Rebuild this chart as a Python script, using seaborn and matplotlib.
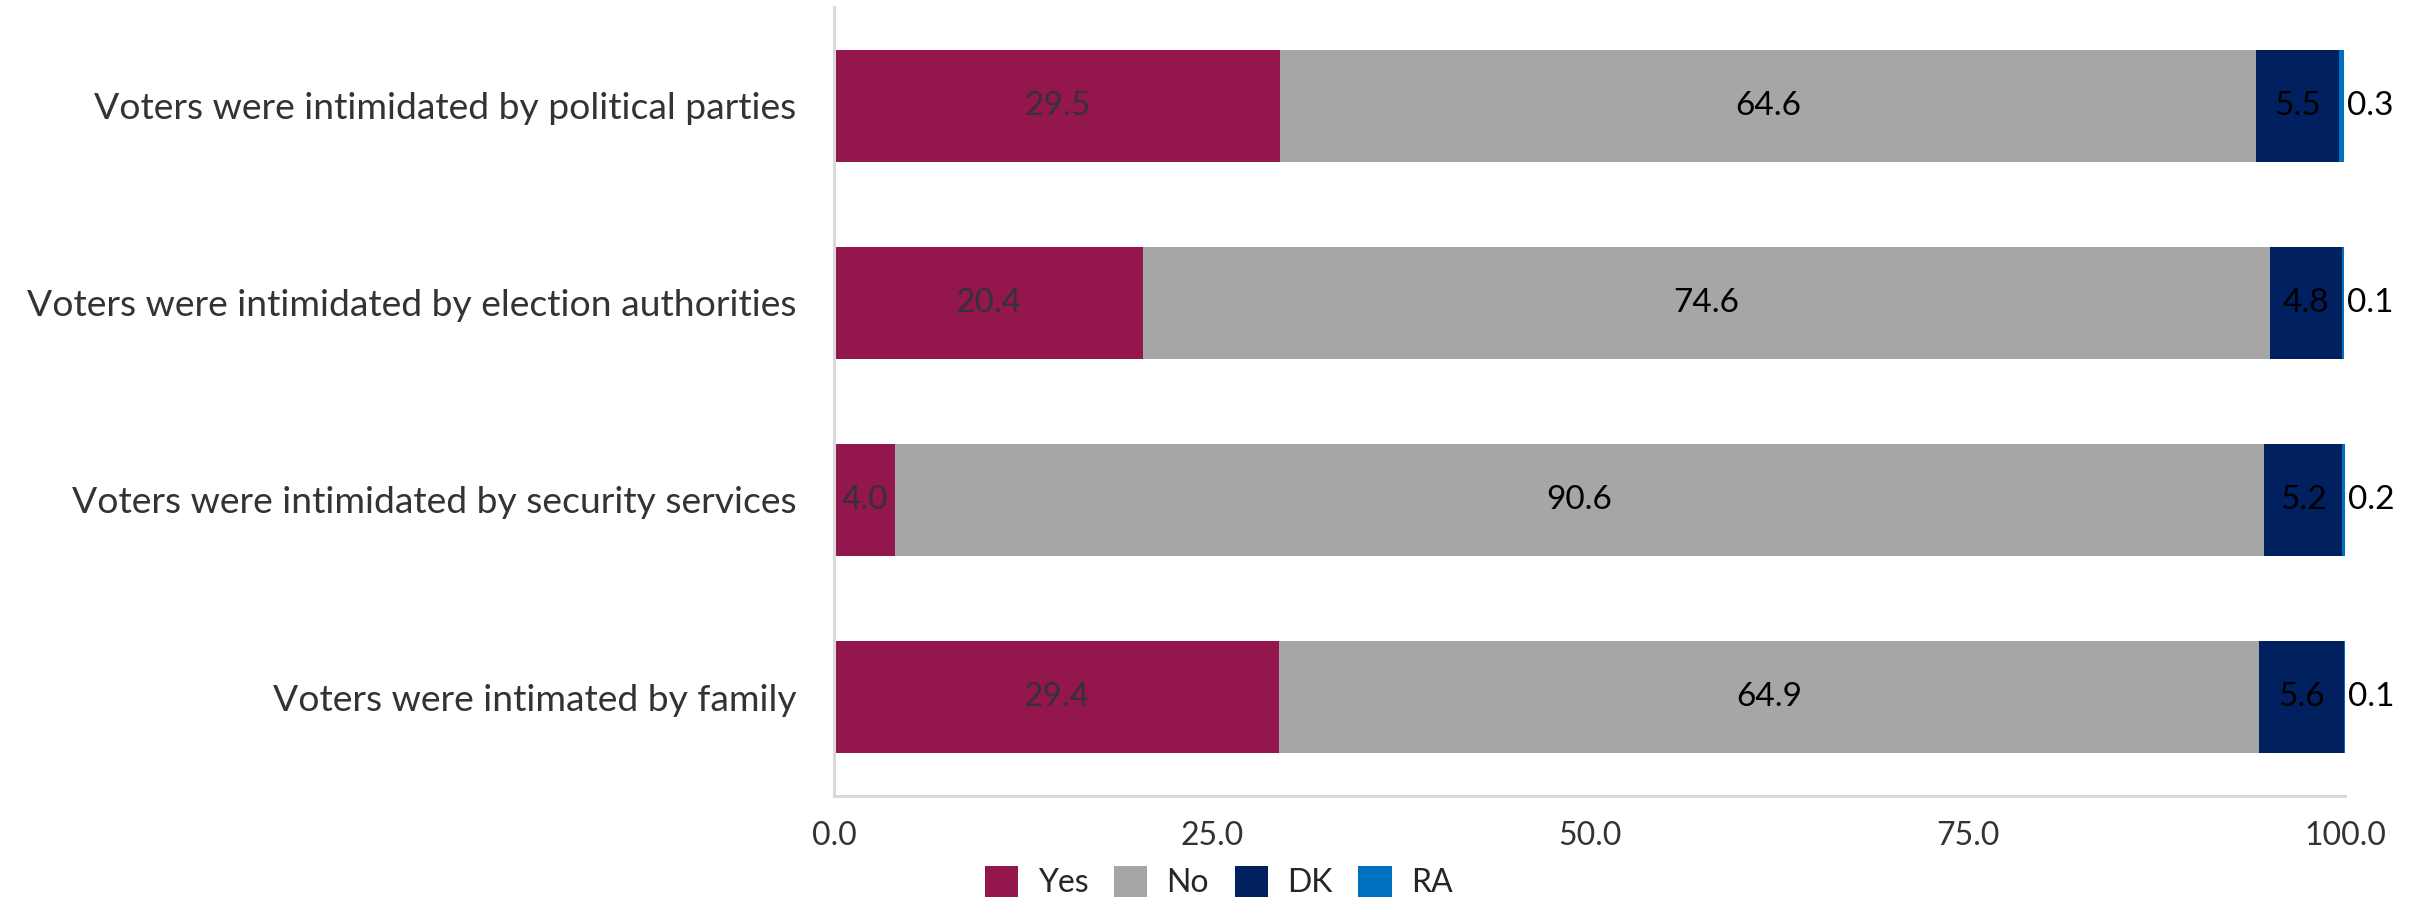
import numpy as np
import pandas as pd
import matplotlib
matplotlib.use("Agg")
import matplotlib.pyplot as plt
import seaborn as sns
from matplotlib.patches import Patch

categories = [
    "Voters were intimidated by political parties",
    "Voters were intimidated by election authorities",
    "Voters were intimidated by security services",
    "Voters were intimated by family",
]
yes_vals = [29.5, 20.4, 4.0, 29.4]
no_vals = [64.6, 74.6, 90.6, 64.9]
dk_vals = [5.5, 4.8, 5.2, 5.6]
ra_vals = [0.3, 0.1, 0.2, 0.1]

series_names = ["Yes", "No", "DK", "RA"]
colors = {"Yes": "#93164d", "No": "#a6a6a6", "DK": "#002060", "RA": "#0070c0"}
xticks = [0, 25, 50, 75, 100]

sns.set_theme(style="white")
plt.rcParams["font.family"] = ["Lato", "DejaVu Sans"]

df = pd.DataFrame({"cat": categories, "Yes": yes_vals, "No": no_vals,
                   "DK": dk_vals, "RA": ra_vals})
# running totals so the stacked bars can be overdrawn from widest to narrowest
cum = df[series_names].cumsum(axis=1)
cum["cat"] = df["cat"]

fig = plt.figure(figsize=(24.18, 9), dpi=100)
ax = fig.add_axes([0.345, 0.116, 0.625, 0.876])

order = ["RA", "DK", "No", "Yes"]
for name in order:
    sns.barplot(data=cum, x=name, y="cat", color=colors[name], orient="h",
                width=0.57, saturation=1, ax=ax, linewidth=0)

# containers are in draw order: RA, DK, No, Yes
cont = dict(zip(order, ax.containers))
for name, col in [("Yes", "#333333"), ("No", "black"), ("DK", "black")]:
    bars = cont[name]
    left = cum[name] - df[name]
    for i, bar in enumerate(bars):
        x0 = left.iloc[i]
        ax.text(x0 + df[name].iloc[i] / 2, bar.get_y() + bar.get_height() / 2,
                f"{df[name].iloc[i]:.1f}", ha="center", va="center",
                fontsize=24, color=col)
for i, bar in enumerate(cont["RA"]):
    ax.text(cum["RA"].iloc[i] + 0.2, bar.get_y() + bar.get_height() / 2,
            f"{df['RA'].iloc[i]:.1f}", ha="left", va="center",
            fontsize=24, color="black")

ax.set_xlim(0, 100)
ax.set_ylim(3.5, -0.5)
ax.set_xticks(xticks)
ax.set_xticklabels([f"{t:.1f}" for t in xticks])
ax.set_xlabel("")
ax.set_ylabel("")
ax.tick_params(axis="x", length=0, pad=18, labelsize=23, labelcolor="#333333")
ax.tick_params(axis="y", length=0, pad=27, labelsize=26.8, labelcolor="#333333")
for s in ["top", "right"]:
    ax.spines[s].set_visible(False)
for s in ["left", "bottom"]:
    ax.spines[s].set_color("#d9d9d9")
    ax.spines[s].set_linewidth(2.2)
ax.grid(False)

handles = [Patch(facecolor=colors[n], edgecolor="none", label=n) for n in series_names]
fig.legend(handles=handles, loc="center", bbox_to_anchor=(0.504, 0.02), ncol=4,
           frameon=False, fontsize=23, handlelength=1.05, handleheight=1.15,
           handletextpad=0.6, columnspacing=0.8)

fig.savefig("out.png", dpi=100)
